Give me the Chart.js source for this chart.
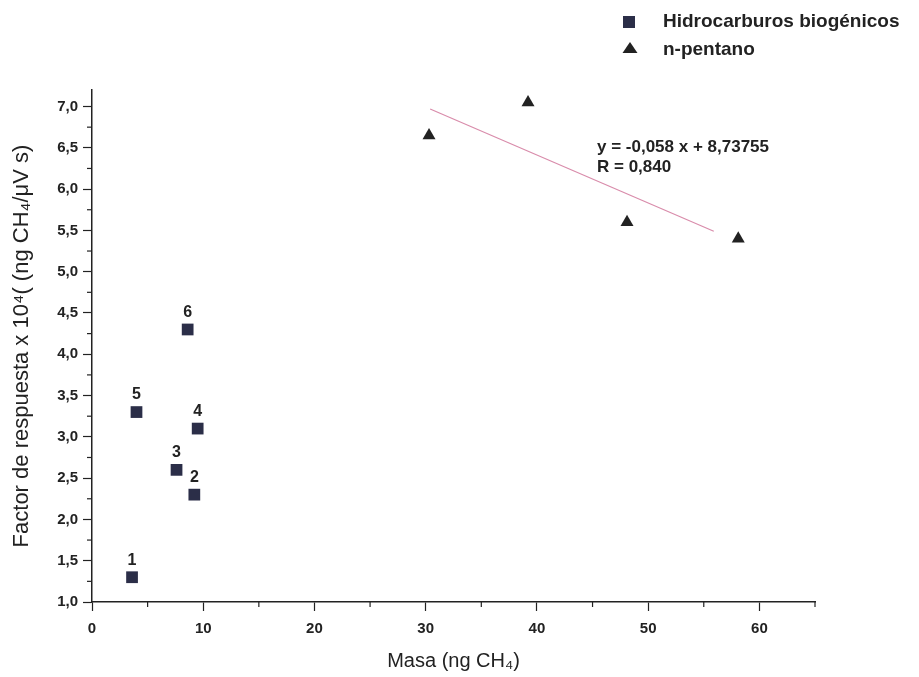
<!DOCTYPE html>
<html>
<head>
<meta charset="utf-8">
<script src="https://cdn.jsdelivr.net/npm/chart.js@4"></script>
<style>
  html, body { margin: 0; padding: 0; background: #fff; }
  #wrap { width: 919px; height: 677px; }
</style>
</head>
<body>
<div id="wrap"><canvas id="chart"></canvas></div>
<script>
// Hidrocarburos biogénicos (puntos 1..6)
const bioX      = [3.6, 9.2, 7.6, 9.5, 4.0, 8.6];
const bioY      = [1.3, 2.3, 2.6, 3.1, 3.3, 4.3];
const bioLabels = ['1', '2', '3', '4', '5', '6'];

// n-pentano
const pentX = [30.3, 39.2, 48.1, 58.1];
const pentY = [6.65, 7.05, 5.6, 5.4];

// recta de ajuste (extremos)
const fitX = [30.4, 55.9];
const fitY = [6.97, 5.49];

// marcas de los ejes
const xTicks = [0, 10, 20, 30, 40, 50, 60];
const yTicks = [1.0, 1.5, 2.0, 2.5, 3.0, 3.5, 4.0, 4.5, 5.0, 5.5, 6.0, 6.5, 7.0];
const xMinor = [5, 15, 25, 35, 45, 55, 65];
const yMinor = [1.25, 1.75, 2.25, 2.75, 3.25, 3.75, 4.25, 4.75, 5.25, 5.75, 6.25, 6.75, 7.25];

const eqLines   = ['y = -0,058 x + 8,73755', 'R = 0,840'];
const legendTxt = ['Hidrocarburos biogénicos', 'n-pentano'];

const ink = '#222';
const navy = '#2b2e48';
const fam = '"Liberation Sans", Arial, sans-serif';

const toPts = (xs, ys) => xs.map((x, i) => ({ x: x, y: ys[i] }));

// ticks menores, etiquetas de puntos, ecuación y leyenda
const extras = {
    id: 'extras',
    afterDraw(chart) {
        const ctx = chart.ctx;
        const sx = chart.scales.x, sy = chart.scales.y;
        ctx.save();
        ctx.strokeStyle = ink;
        ctx.lineWidth = 1.2;
        xMinor.forEach(v => {
            const px = sx.getPixelForValue(v);
            ctx.beginPath();
            ctx.moveTo(px, sx.top);
            ctx.lineTo(px, sx.top + 5);
            ctx.stroke();
        });
        yMinor.forEach(v => {
            if (v > sy.max) return;
            const py = sy.getPixelForValue(v);
            ctx.beginPath();
            ctx.moveTo(sy.right, py);
            ctx.lineTo(sy.right - 5, py);
            ctx.stroke();
        });

        // point numbers
        ctx.fillStyle = ink;
        ctx.font = 'bold 16px ' + fam;
        ctx.textAlign = 'center';
        ctx.textBaseline = 'middle';
        bioLabels.forEach((t, i) => {
            ctx.fillText(t, sx.getPixelForValue(bioX[i]), sy.getPixelForValue(bioY[i]) - 17);
        });

        // equation
        ctx.textAlign = 'left';
        ctx.font = 'bold 17px ' + fam;
        ctx.fillText(eqLines[0], 597, 147);
        ctx.fillText(eqLines[1], 597, 167);

        // legend
        ctx.font = 'bold 19px ' + fam;
        ctx.fillStyle = navy;
        ctx.fillRect(623, 16, 12, 12);
        ctx.fillStyle = ink;
        ctx.beginPath();
        ctx.moveTo(630, 42);
        ctx.lineTo(637.5, 53);
        ctx.lineTo(622.5, 53);
        ctx.closePath();
        ctx.fill();
        ctx.fillText(legendTxt[0], 663, 22);
        ctx.fillText(legendTxt[1], 663, 50);
        ctx.restore();
    }
};

const config = {
    type: 'scatter',
    data: {
        datasets: [
            {
                label: legendTxt[0],
                data: toPts(bioX, bioY),
                pointStyle: 'rect',
                pointRadius: 8.3,
                backgroundColor: navy,
                borderColor: navy,
                borderWidth: 0
            },
            {
                label: legendTxt[1],
                data: toPts(pentX, pentY),
                pointStyle: 'triangle',
                pointRadius: 7.5,
                backgroundColor: ink,
                borderColor: ink,
                borderWidth: 0
            },
            {
                label: 'ajuste',
                type: 'line',
                data: toPts(fitX, fitY),
                borderColor: '#d98cab',
                borderWidth: 1.2,
                pointRadius: 0,
                fill: false
            }
        ]
    },
    options: {
        responsive: false,
        animation: false,
        layout: { padding: { top: 90, right: 104, left: 0, bottom: 0 } },
        plugins: {
            legend: { display: false },
            tooltip: { enabled: false }
        },
        scales: {
            x: {
                type: 'linear',
                min: 0,
                max: 65,
                afterFit: s => { s.height = 75; },
                afterBuildTicks: s => { s.ticks = xTicks.map(v => ({ value: v })); },
                ticks: {
                    color: ink,
                    padding: 9,
                    font: { family: fam, size: 15, weight: 'bold' },
                    callback: v => String(v)
                },
                grid: { drawOnChartArea: false, tickLength: 9, tickColor: ink, tickWidth: 1.2 },
                border: { color: ink, width: 1.5 },
                title: {
                    display: true,
                    text: 'Masa (ng CH₄)',
                    color: ink,
                    padding: { top: 6 },
                    font: { family: fam, size: 20 }
                }
            },
            y: {
                min: 1,
                max: 7.2,
                afterFit: s => { s.width = 92; },
                afterBuildTicks: s => { s.ticks = yTicks.map(v => ({ value: v })); },
                ticks: {
                    color: ink,
                    padding: 5,
                    font: { family: fam, size: 15, weight: 'bold' },
                    callback: v => v.toFixed(1).replace('.', ',')
                },
                grid: { drawOnChartArea: false, tickLength: 9, tickColor: ink, tickWidth: 1.2 },
                border: { color: ink, width: 1.5 },
                title: {
                    display: true,
                    text: 'Factor de respuesta x 10⁴( (ng CH₄/μV s)',
                    color: ink,
                    padding: { top: 9 },
                    font: { family: fam, size: 22 }
                }
            }
        }
    },
    plugins: [extras]
};

const canvas = document.getElementById('chart');
canvas.width = 919;
canvas.height = 677;
new Chart(canvas, config);
</script>
</body>
</html>
